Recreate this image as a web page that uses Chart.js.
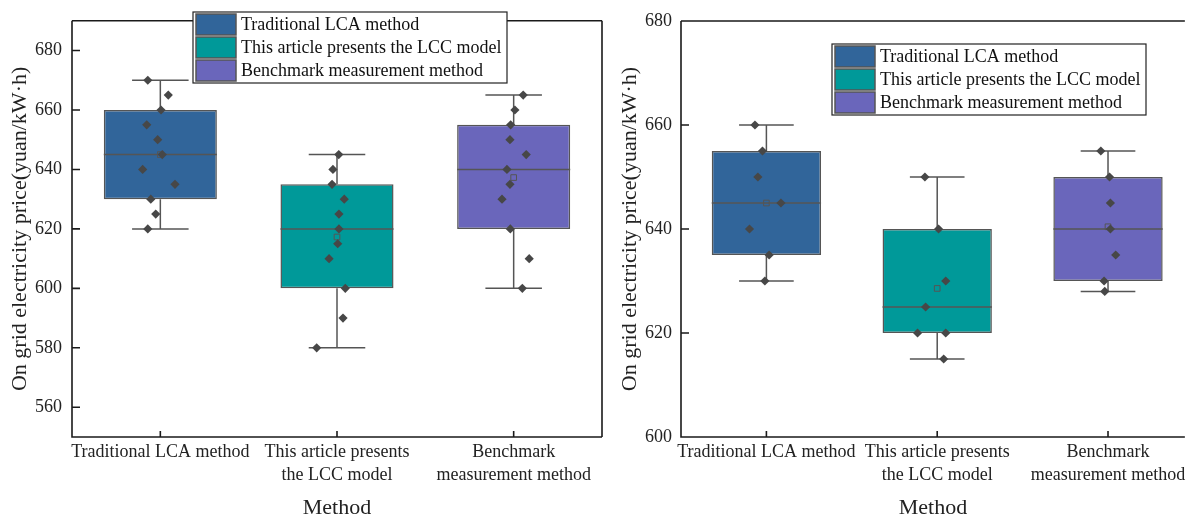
<!DOCTYPE html>
<html>
<head>
<meta charset="utf-8">
<script src="https://cdn.jsdelivr.net/npm/chart.js@4.4.0/dist/chart.umd.min.js"></script>
<style>
  html, body { margin: 0; padding: 0; background: #fff; }
  body { width: 1190px; height: 515px; position: relative; overflow: hidden; }
  .panel { position: absolute; top: 0; height: 515px; }
  #left { left: 0; width: 610px; }
  #right { left: 610px; width: 580px; }
</style>
</head>
<body>
<div class="panel" id="left"><canvas id="chartLeft"></canvas></div>
<div class="panel" id="right"><canvas id="chartRight"></canvas></div>
<script>
/* two box plots with jittered points */
const categories = ['Traditional LCA method', 'This article presents the LCC model', 'Benchmark measurement method'];
const tickLabels = [['Traditional LCA method'], ['This article presents', 'the LCC model'], ['Benchmark', 'measurement method']];
const boxColors = ['#31659a', '#009999', '#6a66bb'];

// left panel
const leftLcaValues = [670, 665, 660, 655, 650, 645, 640, 635, 630, 625, 620];
const leftLcaJitter = [-0.071, 0.045, 0.004, -0.077, -0.015, 0.011, -0.1, 0.083, -0.054, -0.026, -0.071];
const leftLccValues = [645, 640, 635, 630, 625, 620, 615, 610, 600, 590, 580];
const leftLccJitter = [0.01, -0.023, -0.028, 0.041, 0.011, 0.011, 0.004, -0.045, 0.047, 0.034, -0.115];
const leftBenchValues = [665, 660, 655, 650, 645, 640, 635, 630, 620, 610, 600];
const leftBenchJitter = [0.054, 0.007, -0.017, -0.021, 0.071, -0.038, -0.021, -0.066, -0.019, 0.088, 0.049];
const leftLow = [620, 580, 600];
const leftQ1 = [630, 600, 620];
const leftMedian = [645, 620, 640];
const leftQ3 = [660, 635, 655];
const leftHigh = [670, 645, 665];
const leftYTicks = [560, 580, 600, 620, 640, 660, 680];

// right panel
const rightLcaValues = [660, 655, 650, 645, 640, 635, 630];
const rightLcaJitter = [-0.067, -0.023, -0.05, 0.085, -0.099, 0.016, -0.009];
const rightLccValues = [650, 640, 630, 625, 620, 620, 615];
const rightLccJitter = [-0.072, 0.008, 0.05, -0.068, -0.115, 0.05, 0.038];
const rightBenchValues = [655, 650, 645, 640, 635, 630, 628];
const rightBenchJitter = [-0.042, 0.009, 0.014, 0.014, 0.045, -0.023, -0.019];
const rightLow = [630, 615, 628];
const rightQ1 = [635, 620, 630];
const rightMedian = [645, 625, 640];
const rightQ3 = [655, 640, 650];
const rightHigh = [660, 650, 655];
const rightYTicks = [600, 620, 640, 660, 680];

const serif = "'Liberation Serif', 'Times New Roman', serif";
const textColor = '#222';

// whiskers + median, drawn right after the boxes
const boxWhiskers = {
  id: 'boxWhiskers',
  afterDatasetDraw(chart, args) {
    const ds = chart.data.datasets[args.index];
    if (!ds.stats) return;
    const y = chart.scales.y;
    const ctx = chart.ctx;
    ctx.save();
    ctx.strokeStyle = '#555';
    ctx.lineWidth = 1.5;
    args.meta.data.forEach((bar, i) => {
      const half = bar.width / 2;
      const cap = bar.width / 4;
      const yLow = y.getPixelForValue(ds.stats.low[i]);
      const yHigh = y.getPixelForValue(ds.stats.high[i]);
      const yMed = y.getPixelForValue(ds.stats.median[i]);
      ctx.beginPath();
      ctx.moveTo(bar.x, Math.min(bar.y, bar.base));
      ctx.lineTo(bar.x, yHigh);
      ctx.moveTo(bar.x - cap, yHigh);
      ctx.lineTo(bar.x + cap, yHigh);
      ctx.moveTo(bar.x, Math.max(bar.y, bar.base));
      ctx.lineTo(bar.x, yLow);
      ctx.moveTo(bar.x - cap, yLow);
      ctx.lineTo(bar.x + cap, yLow);
      ctx.moveTo(bar.x - half, yMed);
      ctx.lineTo(bar.x + half, yMed);
      ctx.stroke();
    });
    ctx.restore();
  },
};

// frame with inward ticks
const axisFrame = {
  id: 'axisFrame',
  afterDatasetsDraw(chart, args, opts) {
    const { ctx, chartArea: a, scales } = chart;
    ctx.save();
    ctx.strokeStyle = '#1a1a1a';
    ctx.lineWidth = 1.6;
    ctx.beginPath();
    ctx.moveTo(a.left, a.top);
    ctx.lineTo(a.left, a.bottom);
    ctx.lineTo(a.right, a.bottom);
    if (opts.right) {
      ctx.moveTo(a.right, a.bottom);
      ctx.lineTo(a.right, a.top);
    }
    ctx.moveTo(a.left, a.top);
    ctx.lineTo(a.right, a.top);
    scales.y.ticks.forEach((t) => {
      const py = scales.y.getPixelForValue(t.value);
      ctx.moveTo(a.left, py);
      ctx.lineTo(a.left + 8, py);
    });
    scales.x.ticks.forEach((t) => {
      const px = scales.x.getPixelForValue(t.value);
      ctx.moveTo(px, a.bottom);
      ctx.lineTo(px, a.bottom - 6);
    });
    ctx.stroke();
    ctx.restore();
  },
};

const insetLegend = {
  id: 'insetLegend',
  afterDraw(chart, args, opts) {
    const ctx = chart.ctx;
    const rowH = 23;
    const boxW = 314;
    const boxH = categories.length * rowH + 2;
    ctx.save();
    ctx.fillStyle = '#fff';
    ctx.fillRect(opts.x, opts.y, boxW, boxH);
    ctx.strokeStyle = '#222';
    ctx.lineWidth = 1.2;
    ctx.strokeRect(opts.x, opts.y, boxW, boxH);
    ctx.font = '18px ' + serif;
    ctx.textBaseline = 'middle';
    categories.forEach((name, i) => {
      const top = opts.y + 2 + i * rowH;
      ctx.fillStyle = boxColors[i];
      ctx.fillRect(opts.x + 3, top, 40, rowH - 2);
      ctx.strokeStyle = '#555';
      ctx.lineWidth = 1.5;
      ctx.strokeRect(opts.x + 3, top, 40, rowH - 2);
      ctx.fillStyle = '#111';
      ctx.fillText(name, opts.x + 48, top + (rowH - 2) / 2 + 1);
    });
    ctx.restore();
  },
};

function buildDatasets(p) {
  const boxes = {
    type: 'bar',
    data: categories.map((c, i) => ({ x: i + 1, y: [p.q1[i], p.q3[i]] })),
    stats: { low: p.low, median: p.median, high: p.high },
    backgroundColor: boxColors,
    borderColor: '#555',
    borderWidth: 1.5,
    borderSkipped: false,
    categoryPercentage: 0.64,
    barPercentage: 1,
    order: 3,
  };
  const means = {
    type: 'scatter', data: [], pointStyle: 'rect', pointRadius: 4,
    backgroundColor: 'rgba(0,0,0,0)', borderColor: '#555', borderWidth: 1, order: 2,
  };
  const points = {
    type: 'scatter', data: [], pointStyle: 'rectRot', pointRadius: 4.6,
    backgroundColor: '#474747', borderWidth: 0, order: 1,
  };
  p.values.forEach((vals, i) => {
    vals.forEach((v, j) => points.data.push({ x: i + 1 + p.jitter[i][j], y: v }));
    means.data.push({ x: i + 1, y: vals.reduce((s, v) => s + v, 0) / vals.length });
  });
  return [boxes, means, points];
}

function makePanel(id, p) {
  return new Chart(document.getElementById(id), {
    type: 'scatter',
    data: { datasets: buildDatasets(p) },
    plugins: [boxWhiskers, axisFrame, insetLegend],
    options: {
      responsive: true,
      maintainAspectRatio: false,
      animation: false,
      events: [],
      layout: { padding: p.padding },
      plugins: {
        legend: { display: false },
        tooltip: { enabled: false },
        axisFrame: { right: p.frameRight },
        insetLegend: p.legendAt,
      },
      scales: {
        x: {
          type: 'linear', min: 0.5, max: p.xMax, offset: false,
          afterBuildTicks: (s) => { s.ticks = categories.map((c, i) => ({ value: i + 1 })); },
          afterFit: (s) => { s.height = 78; },
          grid: { display: false, drawTicks: false },
          border: { display: false },
          ticks: {
            autoSkip: false, maxRotation: 0, padding: 4, color: textColor,
            font: { family: serif, size: 18, lineHeight: 1.28 },
            callback: (v, i) => tickLabels[i],
          },
          title: {
            display: true, text: 'Method', color: textColor, padding: 0,
            font: { family: serif, size: 22, lineHeight: 0.66 },
          },
        },
        y: {
          type: 'linear', min: p.yMin, max: p.yMax,
          afterBuildTicks: (s) => { s.ticks = p.yTicks.map((v) => ({ value: v })); },
          afterFit: (s) => { s.width = p.yWidth; },
          grid: { display: false, drawTicks: false },
          border: { display: false },
          ticks: { padding: p.tickPad, color: textColor, font: { family: serif, size: 18 } },
          title: {
            display: true, text: 'On grid electricity price(yuan/kW·h)', color: textColor,
            padding: { top: p.titlePad, bottom: 0 },
            font: { family: serif, size: 22 },
          },
        },
      },
    },
  });
}

makePanel('chartLeft', {
  values: [leftLcaValues, leftLccValues, leftBenchValues],
  jitter: [leftLcaJitter, leftLccJitter, leftBenchJitter],
  low: leftLow, q1: leftQ1, median: leftMedian, q3: leftQ3, high: leftHigh,
  yTicks: leftYTicks, yMin: 550, yMax: 690, xMax: 3.5,
  padding: { left: 0, right: 8, top: 11, bottom: 0 },
  yWidth: 72, tickPad: 10, titlePad: 7, frameRight: true,
  legendAt: { x: 193, y: 12 },
});

makePanel('chartRight', {
  values: [rightLcaValues, rightLccValues, rightBenchValues],
  jitter: [rightLcaJitter, rightLccJitter, rightBenchJitter],
  low: rightLow, q1: rightQ1, median: rightMedian, q3: rightQ3, high: rightHigh,
  yTicks: rightYTicks, yMin: 600, yMax: 680, xMax: 3.45,
  padding: { left: 0, right: 0, top: 21, bottom: 0 },
  yWidth: 71, tickPad: 9, titlePad: 7, frameRight: false,
  legendAt: { x: 222, y: 44 },
});
</script>
</body>
</html>
